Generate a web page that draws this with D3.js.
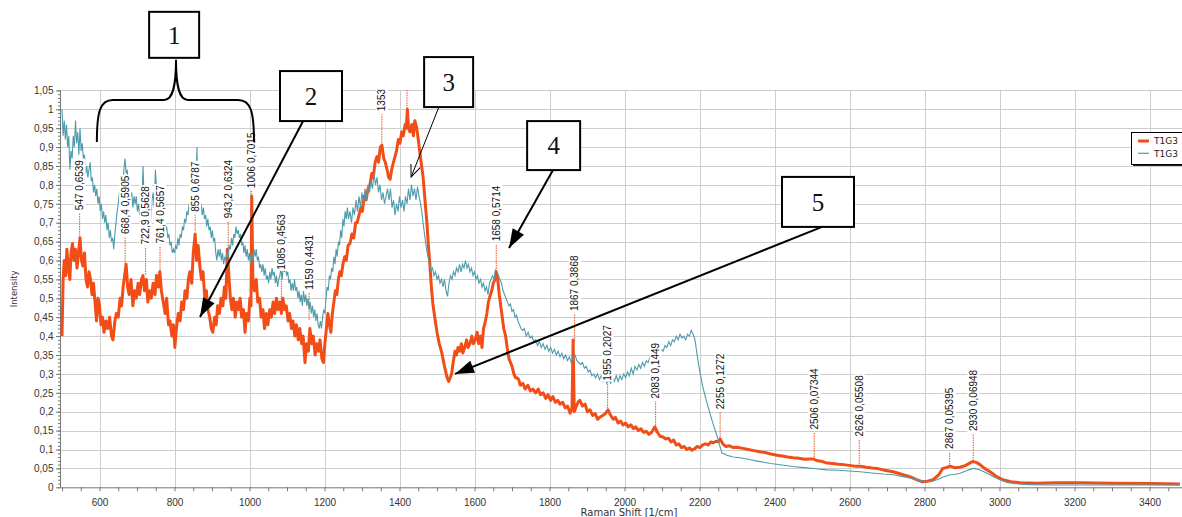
<!DOCTYPE html>
<html>
<head>
<meta charset="utf-8">
<script src="https://cdn.jsdelivr.net/npm/d3@7"></script>
<style>
  body { margin: 0; background: #fff; }
  svg { display: block; }
</style>
</head>
<body>
<svg id="chart"></svg>
<script>
// spectrum 1 (thick orange): [Raman shift, intensity]
const orangeSpectrum = [
  [500, 0.40], [503, 0.55], [506, 0.60], [510, 0.56], [513, 0.63], [517, 0.58], [521, 0.55], [524, 0.62], [528, 0.645], [532, 0.60],
  [536, 0.63], [540, 0.58], [544, 0.62], [548, 0.66], [552, 0.60], [556, 0.585], [560, 0.62], [564, 0.55], [568, 0.53], [572, 0.57],
  [576, 0.55], [580, 0.51], [584, 0.54], [588, 0.49], [592, 0.44], [596, 0.50], [600, 0.48], [604, 0.43], [608, 0.45], [612, 0.41],
  [617, 0.44], [622, 0.42], [627, 0.45], [632, 0.40], [636, 0.39], [641, 0.44], [645, 0.46], [650, 0.45], [655, 0.50], [659, 0.48],
  [663, 0.53], [667, 0.56], [671, 0.59], [675, 0.53], [679, 0.51], [684, 0.55], [689, 0.48], [694, 0.52], [698, 0.50], [703, 0.54],
  [707, 0.51], [712, 0.55], [716, 0.56], [720, 0.52], [725, 0.55], [729, 0.49], [734, 0.52], [738, 0.50], [743, 0.54], [748, 0.51],
  [752, 0.56], [757, 0.53], [761, 0.57], [765, 0.52], [770, 0.49], [775, 0.46], [779, 0.50], [784, 0.43], [788, 0.44], [793, 0.40],
  [797, 0.43], [801, 0.37], [805, 0.42], [810, 0.46], [815, 0.44], [819, 0.49], [824, 0.47], [828, 0.52], [833, 0.50], [837, 0.55],
  [841, 0.57], [846, 0.54], [850, 0.62], [855, 0.67], [859, 0.60], [863, 0.64], [868, 0.58], [872, 0.55], [876, 0.57], [881, 0.50],
  [885, 0.52], [889, 0.47], [894, 0.45], [898, 0.42], [902, 0.41], [907, 0.45], [911, 0.43], [915, 0.48], [920, 0.46], [924, 0.50],
  [929, 0.48], [933, 0.53], [937, 0.50], [941, 0.63], [945, 0.56], [949, 0.50], [953, 0.47], [957, 0.50], [962, 0.45], [966, 0.49],
  [971, 0.47], [975, 0.50], [979, 0.45], [984, 0.47], [988, 0.41], [992, 0.46], [997, 0.44], [1001, 0.50], [1004, 0.48], [1006, 0.77],
  [1009, 0.55], [1013, 0.52], [1018, 0.55], [1022, 0.49], [1027, 0.50], [1031, 0.45], [1036, 0.47], [1040, 0.42], [1045, 0.46], [1049, 0.43],
  [1054, 0.47], [1058, 0.45], [1063, 0.49], [1067, 0.46], [1072, 0.50], [1076, 0.47], [1081, 0.49], [1085, 0.46], [1089, 0.50], [1094, 0.47],
  [1098, 0.48], [1103, 0.44], [1107, 0.46], [1112, 0.42], [1116, 0.44], [1121, 0.40], [1125, 0.43], [1130, 0.39], [1134, 0.42], [1139, 0.38],
  [1143, 0.40], [1148, 0.33], [1152, 0.38], [1157, 0.36], [1161, 0.42], [1166, 0.38], [1170, 0.40], [1175, 0.35], [1179, 0.38], [1184, 0.36],
  [1188, 0.39], [1193, 0.34], [1197, 0.33], [1201, 0.38], [1205, 0.42], [1209, 0.46], [1213, 0.43], [1217, 0.41], [1221, 0.46], [1225, 0.49],
  [1229, 0.52], [1233, 0.51], [1237, 0.55], [1241, 0.57], [1245, 0.56], [1249, 0.59], [1254, 0.61], [1258, 0.60], [1263, 0.64], [1268, 0.645],
  [1273, 0.67], [1278, 0.66], [1283, 0.70], [1287, 0.70], [1292, 0.72], [1297, 0.74], [1301, 0.73], [1306, 0.77], [1311, 0.76], [1316, 0.79],
  [1321, 0.80], [1326, 0.83], [1330, 0.82], [1335, 0.86], [1340, 0.875], [1344, 0.86], [1349, 0.90], [1353, 0.905], [1358, 0.87], [1362, 0.86],
  [1367, 0.84], [1371, 0.82], [1375, 0.815], [1379, 0.84], [1384, 0.86], [1388, 0.875], [1392, 0.89], [1397, 0.92], [1401, 0.91], [1406, 0.94],
  [1410, 0.93], [1415, 0.96], [1418, 0.95], [1421, 1.0], [1424, 0.95], [1428, 0.94], [1433, 0.96], [1437, 0.93], [1441, 0.97], [1446, 0.95],
  [1450, 0.92], [1455, 0.88], [1459, 0.85], [1463, 0.82], [1468, 0.76], [1473, 0.70], [1477, 0.64], [1481, 0.59], [1485, 0.53], [1489, 0.485],
  [1494, 0.45], [1500, 0.41], [1506, 0.38], [1513, 0.355], [1520, 0.32], [1527, 0.29], [1531, 0.28], [1535, 0.29], [1539, 0.30], [1543, 0.33],
  [1548, 0.36], [1552, 0.35], [1556, 0.37], [1561, 0.36], [1565, 0.38], [1569, 0.355], [1574, 0.37], [1579, 0.39], [1583, 0.37], [1588, 0.38],
  [1593, 0.40], [1597, 0.38], [1602, 0.39], [1607, 0.41], [1611, 0.38], [1616, 0.40], [1620, 0.37], [1624, 0.42], [1628, 0.435], [1633, 0.46],
  [1637, 0.49], [1641, 0.505], [1646, 0.52], [1650, 0.54], [1655, 0.55], [1658, 0.57], [1662, 0.55], [1666, 0.51], [1670, 0.48], [1674, 0.45],
  [1678, 0.42], [1683, 0.40], [1687, 0.37], [1692, 0.34], [1696, 0.33], [1700, 0.32], [1705, 0.30], [1709, 0.29], [1713, 0.29], [1718, 0.285],
  [1722, 0.27], [1729, 0.275], [1735, 0.26], [1742, 0.27], [1749, 0.255], [1756, 0.26], [1763, 0.25], [1770, 0.26], [1776, 0.245], [1783, 0.25],
  [1790, 0.235], [1796, 0.245], [1803, 0.23], [1809, 0.24], [1816, 0.225], [1822, 0.23], [1828, 0.22], [1835, 0.225], [1842, 0.21], [1848, 0.215],
  [1855, 0.196], [1860, 0.21], [1863, 0.39], [1866, 0.20], [1871, 0.213], [1876, 0.225], [1881, 0.23], [1888, 0.215], [1895, 0.22], [1901, 0.20],
  [1908, 0.205], [1915, 0.19], [1922, 0.195], [1928, 0.18], [1935, 0.186], [1942, 0.19], [1949, 0.195], [1956, 0.205], [1963, 0.19], [1970, 0.18],
  [1976, 0.185], [1983, 0.17], [1990, 0.175], [1996, 0.165], [2003, 0.17], [2010, 0.16], [2017, 0.165], [2024, 0.155], [2030, 0.16], [2037, 0.15],
  [2044, 0.155], [2051, 0.145], [2058, 0.148], [2065, 0.14], [2072, 0.145], [2081, 0.16], [2088, 0.145], [2095, 0.135], [2103, 0.133], [2110, 0.128],
  [2117, 0.13], [2124, 0.12], [2131, 0.125], [2138, 0.112], [2145, 0.115], [2152, 0.105], [2159, 0.108], [2166, 0.10], [2173, 0.104], [2180, 0.098],
  [2187, 0.102], [2194, 0.108], [2201, 0.105], [2209, 0.112], [2216, 0.115], [2223, 0.112], [2230, 0.12], [2237, 0.118], [2244, 0.122], [2250, 0.12],
  [2255, 0.128], [2262, 0.115], [2270, 0.108], [2280, 0.11], [2290, 0.105], [2300, 0.106], [2316, 0.103], [2330, 0.10], [2345, 0.097], [2361, 0.094],
  [2375, 0.092], [2390, 0.088], [2407, 0.085], [2420, 0.083], [2435, 0.08], [2449, 0.078], [2465, 0.077], [2480, 0.074], [2492, 0.075], [2503, 0.075],
  [2515, 0.07], [2528, 0.068], [2540, 0.064], [2555, 0.063], [2570, 0.061], [2583, 0.06], [2600, 0.058], [2614, 0.056], [2628, 0.056], [2645, 0.053],
  [2660, 0.051], [2673, 0.05], [2690, 0.046], [2705, 0.043], [2716, 0.041], [2730, 0.037], [2745, 0.033], [2761, 0.028], [2777, 0.021], [2793, 0.015],
  [2808, 0.016], [2823, 0.02], [2837, 0.032], [2849, 0.05], [2858, 0.052], [2868, 0.056], [2880, 0.052], [2895, 0.053], [2910, 0.058], [2922, 0.065],
  [2929, 0.068], [2938, 0.066], [2948, 0.06], [2960, 0.05], [2975, 0.041], [2990, 0.03], [3009, 0.02], [3030, 0.015], [3055, 0.012], [3100, 0.011],
  [3150, 0.012], [3215, 0.012], [3300, 0.011], [3400, 0.01], [3481, 0.009]
];

// spectrum 2 (thin teal)
const tealSpectrum = [
  [500, 1.0], [503, 0.93], [506, 0.97], [509, 0.92], [512, 0.96], [515, 0.90], [518, 0.93], [521, 0.84], [524, 0.89], [527, 0.87],
  [530, 0.93], [533, 0.90], [536, 0.97], [539, 0.91], [542, 0.94], [545, 0.88], [548, 0.95], [551, 0.89], [554, 0.91], [557, 0.87],
  [560, 0.88], [563, 0.83], [566, 0.85], [569, 0.82], [572, 0.84], [575, 0.86], [578, 0.81], [581, 0.82], [584, 0.78], [587, 0.80],
  [590, 0.77], [593, 0.79], [596, 0.75], [599, 0.77], [602, 0.73], [605, 0.75], [608, 0.71], [611, 0.73], [614, 0.70], [617, 0.72],
  [620, 0.68], [623, 0.70], [626, 0.66], [629, 0.68], [632, 0.65], [635, 0.66], [638, 0.63], [641, 0.67], [644, 0.70], [647, 0.73],
  [650, 0.75], [653, 0.78], [656, 0.77], [659, 0.82], [662, 0.80], [665, 0.84], [668, 0.87], [671, 0.83], [674, 0.84], [677, 0.80],
  [680, 0.81], [683, 0.77], [686, 0.78], [689, 0.74], [692, 0.77], [695, 0.75], [698, 0.77], [701, 0.73], [704, 0.75], [707, 0.72],
  [710, 0.76], [713, 0.74], [716, 0.85], [719, 0.76], [722, 0.73], [725, 0.70], [728, 0.72], [731, 0.69], [734, 0.73], [737, 0.71],
  [740, 0.76], [743, 0.78], [746, 0.74], [749, 0.84], [752, 0.79], [755, 0.76], [758, 0.78], [761, 0.75], [764, 0.73], [767, 0.74],
  [770, 0.71], [773, 0.70], [776, 0.68], [779, 0.69], [782, 0.66], [785, 0.67], [788, 0.64], [791, 0.65], [794, 0.62], [797, 0.63],
  [800, 0.62], [803, 0.64], [806, 0.63], [809, 0.66], [812, 0.64], [815, 0.67], [818, 0.66], [821, 0.69], [824, 0.68], [827, 0.71],
  [830, 0.70], [833, 0.73], [836, 0.72], [839, 0.75], [842, 0.73], [845, 0.76], [848, 0.74], [851, 0.77], [854, 0.75], [857, 0.80],
  [860, 0.90], [862, 0.77], [865, 0.76], [868, 0.73], [871, 0.75], [874, 0.72], [877, 0.74], [880, 0.71], [883, 0.72], [886, 0.69],
  [889, 0.71], [892, 0.68], [895, 0.69], [898, 0.66], [901, 0.68], [904, 0.65], [907, 0.66], [910, 0.62], [913, 0.60], [916, 0.63],
  [919, 0.61], [922, 0.63], [925, 0.60], [928, 0.62], [931, 0.59], [934, 0.61], [937, 0.60], [940, 0.62], [943, 0.61], [946, 0.64],
  [949, 0.63], [952, 0.66], [955, 0.64], [958, 0.67], [961, 0.66], [964, 0.69], [967, 0.67], [970, 0.68], [973, 0.66], [976, 0.67],
  [979, 0.64], [982, 0.65], [985, 0.62], [988, 0.64], [991, 0.61], [994, 0.63], [997, 0.60], [1000, 0.62], [1003, 0.59], [1006, 0.62],
  [1009, 0.60], [1012, 0.63], [1015, 0.61], [1018, 0.63], [1021, 0.60], [1024, 0.61], [1027, 0.58], [1030, 0.59], [1033, 0.57], [1036, 0.59],
  [1039, 0.56], [1042, 0.58], [1045, 0.55], [1048, 0.56], [1051, 0.54], [1054, 0.57], [1057, 0.55], [1060, 0.58], [1063, 0.56], [1066, 0.57],
  [1069, 0.54], [1072, 0.56], [1075, 0.53], [1078, 0.55], [1081, 0.56], [1084, 0.58], [1087, 0.55], [1090, 0.58], [1093, 0.57], [1096, 0.59],
  [1099, 0.56], [1102, 0.57], [1105, 0.54], [1108, 0.55], [1111, 0.52], [1114, 0.54], [1117, 0.52], [1120, 0.55], [1123, 0.52], [1126, 0.53],
  [1129, 0.50], [1132, 0.52], [1135, 0.49], [1138, 0.51], [1141, 0.48], [1144, 0.52], [1147, 0.49], [1150, 0.51], [1153, 0.48], [1156, 0.50],
  [1159, 0.47], [1162, 0.49], [1165, 0.46], [1168, 0.48], [1171, 0.45], [1174, 0.47], [1177, 0.44], [1180, 0.46], [1183, 0.43], [1186, 0.42],
  [1189, 0.44], [1192, 0.42], [1195, 0.45], [1198, 0.47], [1201, 0.46], [1204, 0.50], [1207, 0.53], [1210, 0.52], [1213, 0.56], [1216, 0.55],
  [1219, 0.58], [1222, 0.57], [1225, 0.61], [1228, 0.59], [1231, 0.63], [1234, 0.61], [1237, 0.65], [1240, 0.64], [1243, 0.68], [1246, 0.66],
  [1249, 0.71], [1252, 0.69], [1255, 0.73], [1258, 0.71], [1261, 0.74], [1264, 0.71], [1268, 0.73], [1272, 0.70], [1276, 0.74], [1280, 0.72],
  [1284, 0.76], [1288, 0.73], [1292, 0.77], [1296, 0.74], [1300, 0.78], [1304, 0.75], [1308, 0.79], [1312, 0.76], [1316, 0.80], [1320, 0.78],
  [1324, 0.81], [1328, 0.79], [1332, 0.83], [1336, 0.80], [1340, 0.82], [1344, 0.78], [1348, 0.80], [1352, 0.76], [1356, 0.78], [1360, 0.75],
  [1364, 0.77], [1368, 0.79], [1372, 0.76], [1376, 0.79], [1380, 0.74], [1384, 0.76], [1388, 0.72], [1392, 0.75], [1396, 0.73], [1400, 0.77],
  [1404, 0.74], [1408, 0.76], [1412, 0.73], [1416, 0.77], [1420, 0.75], [1424, 0.79], [1428, 0.76], [1432, 0.80], [1436, 0.77], [1440, 0.79],
  [1444, 0.76], [1448, 0.795], [1452, 0.77], [1456, 0.75], [1460, 0.725], [1464, 0.69], [1468, 0.66], [1472, 0.63], [1476, 0.61], [1480, 0.59],
  [1484, 0.575], [1488, 0.58], [1492, 0.56], [1496, 0.57], [1500, 0.55], [1504, 0.56], [1508, 0.54], [1512, 0.55], [1516, 0.53], [1520, 0.55],
  [1524, 0.52], [1528, 0.505], [1532, 0.54], [1536, 0.56], [1540, 0.55], [1544, 0.57], [1548, 0.56], [1552, 0.58], [1556, 0.57], [1560, 0.59],
  [1564, 0.57], [1568, 0.59], [1572, 0.58], [1576, 0.60], [1580, 0.58], [1584, 0.59], [1588, 0.57], [1592, 0.58], [1596, 0.56], [1600, 0.57],
  [1604, 0.55], [1608, 0.56], [1612, 0.54], [1616, 0.55], [1620, 0.53], [1624, 0.54], [1628, 0.52], [1632, 0.53], [1636, 0.51], [1640, 0.54],
  [1644, 0.55], [1648, 0.56], [1652, 0.55], [1656, 0.575], [1660, 0.57], [1664, 0.56], [1668, 0.55], [1672, 0.54], [1676, 0.52], [1680, 0.51],
  [1684, 0.50], [1688, 0.49], [1692, 0.48], [1696, 0.485], [1700, 0.465], [1704, 0.47], [1708, 0.45], [1712, 0.455], [1716, 0.44], [1720, 0.43],
  [1724, 0.42], [1728, 0.415], [1733, 0.42], [1738, 0.40], [1743, 0.41], [1748, 0.395], [1753, 0.40], [1758, 0.385], [1763, 0.39], [1768, 0.375],
  [1773, 0.385], [1778, 0.37], [1783, 0.38], [1788, 0.365], [1793, 0.375], [1798, 0.36], [1803, 0.37], [1808, 0.355], [1813, 0.365], [1818, 0.35],
  [1823, 0.36], [1828, 0.345], [1833, 0.355], [1838, 0.34], [1843, 0.35], [1848, 0.335], [1853, 0.345], [1858, 0.33], [1863, 0.345], [1868, 0.35],
  [1873, 0.335], [1878, 0.33], [1883, 0.325], [1888, 0.33], [1893, 0.315], [1898, 0.32], [1903, 0.305], [1908, 0.31], [1913, 0.295], [1918, 0.30],
  [1923, 0.29], [1928, 0.30], [1933, 0.285], [1938, 0.295], [1943, 0.28], [1948, 0.29], [1953, 0.275], [1958, 0.285], [1963, 0.275], [1968, 0.29],
  [1973, 0.28], [1978, 0.295], [1983, 0.28], [1988, 0.295], [1993, 0.285], [1998, 0.30], [2003, 0.29], [2008, 0.305], [2013, 0.295], [2018, 0.315],
  [2023, 0.30], [2028, 0.32], [2033, 0.31], [2038, 0.325], [2043, 0.315], [2048, 0.33], [2053, 0.32], [2058, 0.335], [2063, 0.33], [2068, 0.345],
  [2073, 0.34], [2078, 0.35], [2083, 0.345], [2088, 0.355], [2093, 0.35], [2098, 0.365], [2103, 0.36], [2108, 0.375], [2113, 0.37], [2118, 0.385],
  [2123, 0.375], [2128, 0.39], [2133, 0.385], [2138, 0.40], [2143, 0.39], [2148, 0.405], [2153, 0.395], [2158, 0.40], [2163, 0.39], [2168, 0.405],
  [2173, 0.40], [2178, 0.415], [2183, 0.405], [2188, 0.39], [2193, 0.355], [2200, 0.31], [2209, 0.265], [2218, 0.23], [2228, 0.195], [2237, 0.165],
  [2247, 0.135], [2254, 0.11], [2260, 0.09], [2267, 0.088], [2273, 0.085], [2290, 0.08], [2308, 0.078], [2330, 0.074], [2361, 0.068], [2390, 0.063],
  [2420, 0.059], [2449, 0.055], [2480, 0.052], [2510, 0.049], [2540, 0.046], [2570, 0.045], [2600, 0.043], [2628, 0.041], [2660, 0.038], [2690, 0.035],
  [2716, 0.033], [2740, 0.029], [2761, 0.025], [2785, 0.019], [2807, 0.015], [2820, 0.016], [2833, 0.02], [2850, 0.027], [2868, 0.033], [2880, 0.034],
  [2895, 0.037], [2910, 0.043], [2929, 0.05], [2945, 0.047], [2967, 0.037], [2985, 0.027], [3001, 0.02], [3020, 0.013], [3036, 0.01], [3080, 0.007],
  [3127, 0.006], [3300, 0.006], [3481, 0.006]
];

// peak picks printed on the plot
const peakShift = [547, 668.4, 722.9, 761.4, 855, 943.2, 1006, 1085, 1159, 1353, 1420, 1658, 1867, 1955, 2083, 2255, 2506, 2626, 2867, 2930];
const peakValue = [0.6539, 0.5905, 0.5628, 0.5657, 0.6787, 0.6324, 0.7015, 0.4563, 0.4431, 0.905, 0.995, 0.5714, 0.3868, 0.2027, 0.1449, 0.1272, 0.07344, 0.05508, 0.05395, 0.06948];
const peakText = ["547 0,6539", "668,4 0,5905", "722,9 0,5628", "761,4 0,5657", "855 0,6787", "943,2 0,6324", "1006 0,7015",
  "1085 0,4563", "1159 0,4431", "1353", "", "1658 0,5714", "1867 0,3868", "1955 0,2027", "2083 0,1449", "2255 0,1272",
  "2506 0,07344", "2626 0,05508", "2867 0,05395", "2930 0,06948"];

const seriesNames = ["T1G3", "T1G3"];
const calloutNumbers = ["1", "2", "3", "4", "5"];
// box centre and arrow start/end in data space (shift, intensity)
const calloutBox = [[799, 1.197], [1164, 1.035], [1531, 1.072], [1811, 0.904], [2516, 0.755]];
const arrowFrom = [null, [1143, 0.969], [1505, 1.006], [1809, 0.839], [2527, 0.689]];
const arrowTo = [null, [868, 0.4505], [1431, 0.821], [1692, 0.633], [1548, 0.300]];

const orangeColor = '#f24d17';
const tealColor = '#4e9bac';
const w = 1182, h = 517;

const svg = d3.select('#chart')
  .attr('width', w)
  .attr('height', h)
  .style('font-family', '"DejaVu Sans", sans-serif');

const xScale = d3.scaleLinear().domain([500, 3400]).range([62, 1149.5]);
const yScale = d3.scaleLinear().domain([0, 1.05]).range([487.3, 90.4]);
const pL = 60, pR = w, pT = yScale(1.05), pB = yScale(0);

svg.append('defs').append('clipPath').attr('id', 'plot')
  .append('rect').attr('x', pL).attr('y', pT - 1).attr('width', pR - pL).attr('height', pB - pT + 1);

// grid
const yMajor = d3.range(0, 22).map(i => +(i * 0.05).toFixed(2));
const yMinor = d3.range(0, 106).map(i => +(i * 0.01).toFixed(2));
const xMajor = d3.range(600, 3401, 200);
const xMinor = d3.range(500, 3451, 50);

const grid = svg.append('g').attr('stroke', '#cdcdcd').attr('stroke-width', 1);
grid.selectAll('.gy').data(yMajor.slice(1)).join('line')
  .attr('x1', pL).attr('x2', pR)
  .attr('y1', d => Math.round(yScale(d)) + 0.5).attr('y2', d => Math.round(yScale(d)) + 0.5);
grid.selectAll('.gx').data(xMajor).join('line')
  .attr('y1', pT).attr('y2', pB)
  .attr('x1', d => Math.round(xScale(d)) + 0.5).attr('x2', d => Math.round(xScale(d)) + 0.5);

// axes
const fmt = d => d3.format('.2~f')(d).replace('.', ',');
const yAxis = svg.append('g').attr('transform', `translate(${pL},0)`)
  .call(d3.axisLeft(yScale).tickValues(yMajor).tickFormat(fmt).tickSize(4).tickPadding(2.5).tickSizeOuter(0));
const yMinorAxis = svg.append('g').attr('transform', `translate(${pL},0)`)
  .call(d3.axisLeft(yScale).tickValues(yMinor).tickFormat('').tickSize(2).tickSizeOuter(0));
const xAxis = svg.append('g').attr('transform', `translate(0,${pB})`)
  .call(d3.axisBottom(xScale).tickValues(xMinor).tickFormat(d => d % 200 === 0 && d >= 600 ? d : '').tickSize(4).tickPadding(8).tickSizeOuter(0));
[yAxis, yMinorAxis, xAxis].forEach(a => {
  a.select('.domain').remove();
  a.selectAll('line').attr('stroke', '#777');
  a.selectAll('text').attr('fill', '#333').style('font-size', '10px');
});
svg.append('line').attr('x1', pL + 0.5).attr('x2', pL + 0.5).attr('y1', pT).attr('y2', pB)
  .attr('stroke', '#777');
svg.append('line').attr('x1', pL).attr('x2', pR).attr('y1', pB + 0.5).attr('y2', pB + 0.5)
  .attr('stroke', '#777');

svg.append('text').text('Intensity')
  .attr('transform', `translate(14,${(pT + pB) / 2}) rotate(-90)`)
  .attr('text-anchor', 'middle').attr('dy', '0.35em')
  .style('font-size', '8.5px').attr('fill', '#333');
svg.append('text').text('Raman Shift [1/cm]')
  .attr('x', 629).attr('y', 516).attr('text-anchor', 'middle')
  .style('font-size', '10px').attr('fill', '#333');

// spectra
const line = d3.line().x(d => xScale(d[0])).y(d => yScale(d[1]));
const plot = svg.append('g').attr('clip-path', 'url(#plot)');
plot.append('path')
  .datum(orangeSpectrum)
  .attr('d', line).attr('fill', 'none')
  .attr('stroke', orangeColor).attr('stroke-width', 3).attr('stroke-linejoin', 'round');
plot.append('path')
  .datum(tealSpectrum)
  .attr('d', line).attr('fill', 'none')
  .attr('stroke', tealColor).attr('stroke-width', 1.1);

// peak markers + labels
const gapFix = { 855: 16, 1006: 31, 1085: 42, 1353: 31, 2083: 31, 2867: 15 };
const peaks = peakShift.map((s, i) => ({ s, v: peakValue[i], t: peakText[i], gap: gapFix[s] || 27 }));
const pk = plot.selectAll('.peak').data(peaks).join('g').attr('class', 'peak');
pk.append('line')
  .attr('x1', d => xScale(d.s)).attr('x2', d => xScale(d.s))
  .attr('y1', d => yScale(d.v)).attr('y2', d => yScale(d.v) - d.gap)
  .attr('stroke', orangeColor).attr('stroke-width', 1).attr('stroke-dasharray', '1.5,1');
const lab = pk.filter(d => d.t).append('g')
  .attr('transform', d => `translate(${xScale(d.s)},${yScale(d.v) - d.gap - 3}) rotate(-90)`);
lab.append('rect').attr('fill', '#fff');
lab.append('text').text(d => d.t)
  .attr('dy', '0.35em')
  .style('font-family', '"Liberation Sans", Arial, sans-serif').style('font-size', '10px')
  .attr('fill', '#111');
lab.each(function () {
  const g = d3.select(this);
  const len = g.select('text').node().getComputedTextLength();
  g.select('rect').attr('x', -1).attr('y', -6).attr('width', len + 2).attr('height', 12);
});

// callouts
const defs = svg.select('defs');
defs.append('marker').attr('id', 'solid').attr('markerUnits', 'userSpaceOnUse')
  .attr('viewBox', '-20 -8 22 16').attr('refX', 0).attr('refY', 0)
  .attr('markerWidth', 22).attr('markerHeight', 16).attr('orient', 'auto')
  .append('path').attr('d', 'M0,0 L-19,-6.5 L-19,6.5 Z').attr('fill', '#000');
defs.append('marker').attr('id', 'open').attr('markerUnits', 'userSpaceOnUse')
  .attr('viewBox', '-14 -8 16 16').attr('refX', 0).attr('refY', 0)
  .attr('markerWidth', 16).attr('markerHeight', 16).attr('orient', 'auto')
  .append('path').attr('d', 'M-12,-5 L0,0 L-12,5').attr('fill', 'none').attr('stroke', '#000').attr('stroke-width', 1);

const notes = svg.append('g');
calloutNumbers.forEach((n, i) => {
  if (!arrowFrom[i]) return;
  notes.append('line')
    .attr('x1', xScale(arrowFrom[i][0])).attr('y1', yScale(arrowFrom[i][1]))
    .attr('x2', xScale(arrowTo[i][0])).attr('y2', yScale(arrowTo[i][1]))
    .attr('stroke', '#000').attr('stroke-width', i === 2 ? 1 : 2)
    .attr('marker-end', i === 2 ? 'url(#open)' : 'url(#solid)');
});

// brace under box 1
const bl = xScale(593), br = xScale(1012), bm = xScale(804);
const by = yScale(0.9135), bh = yScale(1.0246), bt = yScale(1.131);
notes.append('path')
  .attr('d', `M${bl},${by} C${bl},${bh + 12} ${bl + 3},${bh} ${bl + 16},${bh} L${bm - 12},${bh}
    C${bm - 3},${bh} ${bm},${bh - 14} ${bm},${bt} C${bm},${bh - 14} ${bm + 3},${bh} ${bm + 12},${bh}
    L${br - 16},${bh} C${br - 3},${bh} ${br},${bh + 12} ${br},${by}`)
  .attr('fill', 'none').attr('stroke', '#000').attr('stroke-width', 2);

const boxW = [50, 62, 49, 53, 72];
const boxH = [46, 50, 50, 49, 50];
calloutNumbers.forEach((n, i) => {
  const cx = xScale(calloutBox[i][0]), cy = yScale(calloutBox[i][1]);
  notes.append('rect')
    .attr('x', cx - boxW[i] / 2).attr('y', cy - boxH[i] / 2)
    .attr('width', boxW[i]).attr('height', boxH[i])
    .attr('fill', '#fff').attr('stroke', '#000').attr('stroke-width', 2);
  notes.append('text').text(n)
    .attr('x', cx).attr('y', cy).attr('dy', '0.35em').attr('text-anchor', 'middle')
    .style('font-family', '"Liberation Serif", "Times New Roman", serif').style('font-size', '25px')
    .attr('fill', '#111');
});

// legend
const lg = svg.append('g').attr('transform', 'translate(1131,132)');
lg.append('rect').attr('x', 2).attr('y', 2).attr('width', 60).attr('height', 32).attr('fill', '#222');
lg.append('rect').attr('x', 0.5).attr('y', 0.5).attr('width', 60).attr('height', 32)
  .attr('fill', '#fff').attr('stroke', '#000').attr('stroke-width', 1);
[orangeColor, tealColor].forEach((c, i) => {
  const yy = 9 + i * 12.3;
  lg.append('line').attr('x1', 7).attr('x2', 18).attr('y1', yy).attr('y2', yy)
    .attr('stroke', c).attr('stroke-width', i === 0 ? 3 : 1.2);
  lg.append('text').text(seriesNames[i]).attr('x', 23).attr('y', yy + 3.4)
    .style('font-size', '9px').attr('fill', '#222');
});
</script>
</body>
</html>
